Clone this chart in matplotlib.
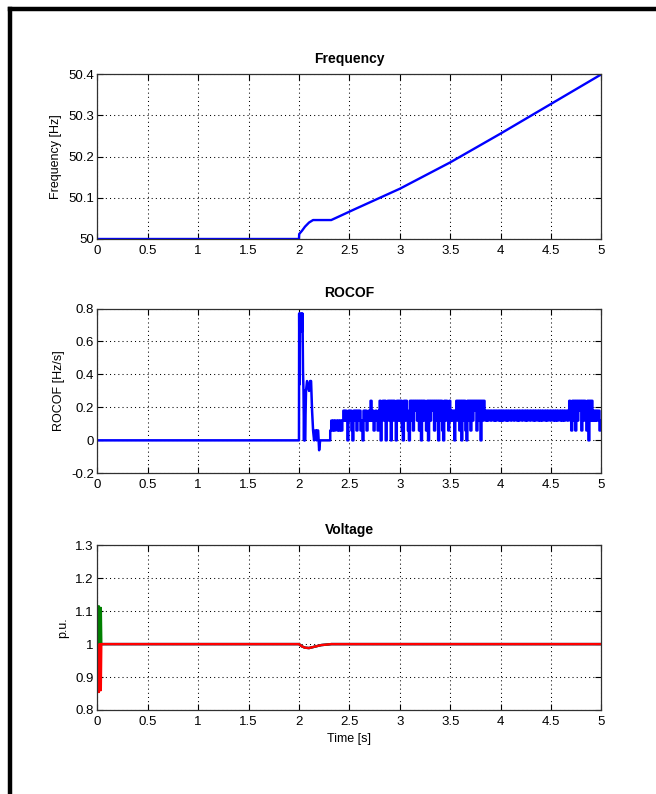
import numpy as np
import matplotlib
matplotlib.use('Agg')
from matplotlib import pyplot as plt
from matplotlib.lines import Line2D

plt.rcParams['font.family'] = ['Liberation Sans', 'DejaVu Sans']

# Shared time axis
TIME_TICKS = [0, 0.5, 1, 1.5, 2, 2.5, 3, 3.5, 4, 4.5, 5]
TIME_TICK_LABELS = ['0', '0.5', '1', '1.5', '2', '2.5', '3', '3.5', '4', '4.5', '5']

# Frequency [Hz]
FREQ_T = [0.0, 2.0, 2.002, 2.03, 2.06, 2.10, 2.14, 2.32, 2.40, 2.55, 3.0, 3.5, 4.0, 4.5, 5.0]
FREQ_HZ = [50.0, 50.0, 50.012, 50.02, 50.03, 50.04, 50.046, 50.046, 50.055, 50.072,
           50.122, 50.186, 50.256, 50.328, 50.4]
FREQ_TICKS = [50, 50.1, 50.2, 50.3, 50.4]
FREQ_TICK_LABELS = ['50', '50.1', '50.2', '50.3', '50.4']

# ROCOF [Hz/s] - transient after the event
ROCOF_T = [0.0, 2.000, 2.002, 2.006, 2.010, 2.025, 2.030, 2.035, 2.040, 2.045, 2.050,
           2.055, 2.060, 2.070, 2.080, 2.100, 2.110, 2.120, 2.130, 2.140, 2.150,
           2.160, 2.170, 2.175, 2.180, 2.190, 2.200, 2.210]
ROCOF_V = [0.0, 0.0, 0.77, 0.34, 0.77, 0.77, 0.66, 0.77, 0.42, 0.30, 0.0,
           0.30, 0.0, 0.30, 0.36, 0.30, 0.36, 0.36, 0.18, 0.06, 0.0,
           0.06, 0.06, 0.0, 0.06, 0.06, -0.06, 0.0]

# ROCOF [Hz/s] - sampled every 10 ms from 2.30 s
ROCOF_STEP_START = 2.30
ROCOF_STEP_DT = 0.01
ROCOF_STEPS = [
    0.0, 0.06, 0.12, 0.06, 0.12, 0.06, 0.12, 0.12, 0.06, 0.12,    # 2.30
    0.06, 0.12, 0.06, 0.12, 0.18, 0.12, 0.18, 0.12, 0.0, 0.18,    # 2.40
    0.12, 0.18, 0.06, 0.0, 0.18, 0.12, 0.18, 0.06, 0.18, 0.12,    # 2.50
    0.18, 0.06, 0.12, 0.0, 0.18, 0.12, 0.18, 0.06, 0.12, 0.18,    # 2.60
    0.12, 0.24, 0.12, 0.18, 0.06, 0.12, 0.18, 0.12, 0.06, 0.18,   # 2.70
    0.24, 0.0, 0.18, 0.24, 0.12, 0.24, 0.0, 0.18, 0.24, 0.12,     # 2.80
    0.24, 0.0, 0.24, 0.12, 0.24, 0.18, 0.0, 0.24, 0.12, 0.24,     # 2.90
    0.12, 0.24, 0.06, 0.0, 0.24, 0.12, 0.24, 0.18, 0.06, 0.0,     # 3.00
    0.24, 0.12, 0.24, 0.06, 0.24, 0.18, 0.24, 0.12, 0.24, 0.06,   # 3.10
    0.24, 0.0, 0.24, 0.12, 0.24, 0.18, 0.06, 0.24, 0.0, 0.24,     # 3.20
    0.12, 0.24, 0.18, 0.24, 0.06, 0.24, 0.12, 0.24, 0.0, 0.24,    # 3.30
    0.12, 0.24, 0.06, 0.0, 0.24, 0.12, 0.24, 0.18, 0.06, 0.24,    # 3.40
    0.12, 0.18, 0.12, 0.18, 0.0, 0.18, 0.24, 0.12, 0.24, 0.06,    # 3.50
    0.24, 0.0, 0.24, 0.12, 0.24, 0.06, 0.0, 0.24, 0.12, 0.24,     # 3.60
    0.06, 0.24, 0.12, 0.24, 0.18, 0.24, 0.06, 0.24, 0.12, 0.24,   # 3.70
    0.0, 0.24, 0.12, 0.24, 0.18, 0.12, 0.18, 0.12, 0.18, 0.18,    # 3.80
    0.12, 0.18, 0.18, 0.12, 0.18, 0.12, 0.18, 0.18, 0.12, 0.18,   # 3.90
    0.12, 0.18, 0.12, 0.18, 0.18, 0.12, 0.18, 0.12, 0.18, 0.18,   # 4.00
    0.12, 0.18, 0.18, 0.12, 0.18, 0.18, 0.12, 0.18, 0.12, 0.18,   # 4.10
    0.18, 0.12, 0.18, 0.18, 0.12, 0.18, 0.12, 0.18, 0.18, 0.12,   # 4.20
    0.18, 0.18, 0.12, 0.18, 0.12, 0.18, 0.18, 0.12, 0.18, 0.12,   # 4.30
    0.18, 0.12, 0.18, 0.18, 0.12, 0.18, 0.12, 0.18, 0.18, 0.12,   # 4.40
    0.18, 0.18, 0.12, 0.18, 0.12, 0.18, 0.12, 0.18, 0.18, 0.12,   # 4.50
    0.18, 0.12, 0.18, 0.12, 0.18, 0.18, 0.12, 0.18, 0.24, 0.12,   # 4.60
    0.06, 0.24, 0.12, 0.24, 0.06, 0.24, 0.12, 0.24, 0.18, 0.24,   # 4.70
    0.06, 0.24, 0.12, 0.24, 0.18, 0.06, 0.24, 0.0, 0.24, 0.12,    # 4.80
    0.24, 0.12, 0.18, 0.12, 0.18, 0.12, 0.18, 0.18, 0.06, 0.12,   # 4.90
]
ROCOF_TICKS = [-0.2, 0, 0.2, 0.4, 0.6, 0.8]
ROCOF_TICK_LABELS = ['-0.2', '0', '0.2', '0.4', '0.6', '0.8']

# Voltage [p.u.], three phases
VOLT_BLUE_T = [0.0, 2.00, 2.03, 2.06, 2.10, 2.14, 2.18, 2.22, 2.26, 2.32, 5.0]
VOLT_BLUE = [1.0, 1.0, 0.993, 0.989, 0.988, 0.991, 0.994, 0.997, 0.998, 1.0, 1.0]
VOLT_GREEN_T = [0.0, 0.015, 0.02, 0.025, 0.03, 0.035, 0.04, 2.00, 2.03, 2.06, 2.10,
                2.14, 2.18, 2.22, 2.26, 2.32, 5.0]
VOLT_GREEN = [1.0, 1.115, 1.0, 1.11, 1.0, 1.11, 1.0, 1.0, 0.993, 0.989, 0.988,
              0.991, 0.994, 0.997, 0.998, 1.0, 1.0]
VOLT_RED_T = [0.015, 0.02, 0.025, 0.03, 0.035, 0.04, 2.00, 2.03, 2.06, 2.10, 2.14,
              2.18, 2.22, 2.26, 2.32, 5.0]
VOLT_RED = [0.855, 1.0, 0.86, 1.0, 0.86, 1.0, 1.0, 0.993, 0.989, 0.988, 0.991,
            0.994, 0.997, 0.998, 1.0, 1.0]
VOLT_TICKS = [0.8, 0.9, 1.0, 1.1, 1.2, 1.3]
VOLT_TICK_LABELS = ['0.8', '0.9', '1', '1.1', '1.2', '1.3']


def style_axes(ax, yticks, yticklabels, ylim):
    ax.set_xlim(0, 5)
    ax.set_ylim(*ylim)
    ax.set_xticks(TIME_TICKS)
    ax.set_xticklabels(TIME_TICK_LABELS)
    ax.set_yticks(yticks)
    ax.set_yticklabels(yticklabels)
    ax.tick_params(direction='in', length=4, width=0.8, top=True, right=True,
                   labelsize=9.5, colors='black')
    ax.tick_params(axis='x', pad=4)
    ax.tick_params(axis='y', pad=2.5)
    ax.grid(True, color='black', linestyle=(0, (1, 3)), linewidth=0.75)
    for sp in ax.spines.values():
        sp.set_color('#303030')
        sp.set_linewidth(0.9)


fig = plt.figure(figsize=(6.56, 7.94), dpi=100)

left, width, height = 0.1483, 0.7686, 0.2075
ax1 = fig.add_axes([left, 0.699, width, height])
ax2 = fig.add_axes([left, 0.4039, width, height])
ax3 = fig.add_axes([left, 0.1058, width, height])

# Frequency
ax1.plot(FREQ_T, FREQ_HZ, color='blue', linewidth=1.7)
style_axes(ax1, FREQ_TICKS, FREQ_TICK_LABELS, (50, 50.4))
ax1.set_title('Frequency', fontsize=10, fontweight='bold', pad=8)
ax1.set_ylabel('Frequency [Hz]', fontsize=9, labelpad=4)

# ROCOF: transient followed by the 10 ms sampled part
n = len(ROCOF_STEPS)
t0 = ROCOF_STEP_START + ROCOF_STEP_DT * np.arange(n)
step_t = np.column_stack([t0, t0 + ROCOF_STEP_DT]).ravel()
step_v = np.repeat(ROCOF_STEPS, 2)
rocof_t = np.concatenate([ROCOF_T, step_t])
rocof_v = np.concatenate([ROCOF_V, step_v])
ax2.plot(rocof_t, rocof_v, color='blue', linewidth=1.8)
style_axes(ax2, ROCOF_TICKS, ROCOF_TICK_LABELS, (-0.2, 0.8))
ax2.set_title('ROCOF', fontsize=10, fontweight='bold', pad=8)
ax2.set_ylabel('ROCOF [Hz/s]', fontsize=9, labelpad=4)

# Voltage
ax3.plot(VOLT_BLUE_T, VOLT_BLUE, color='blue', linewidth=1.7)
ax3.plot(VOLT_GREEN_T, VOLT_GREEN, color='#008000', linewidth=1.7)
ax3.plot(VOLT_RED_T, VOLT_RED, color='red', linewidth=1.7)
style_axes(ax3, VOLT_TICKS, VOLT_TICK_LABELS, (0.8, 1.3))
ax3.set_title('Voltage', fontsize=10, fontweight='bold', pad=8)
ax3.set_ylabel('p.u.', fontsize=9, labelpad=4)
ax3.set_xlabel('Time [s]', fontsize=9, labelpad=4)

# Black frame round the figure (cut off at the right and bottom)
x0 = 10.0 / 656
y0 = 1 - 9.0 / 794
fig.add_artist(Line2D([x0, x0], [-0.01, y0], color='black', linewidth=3.2,
                      solid_capstyle='projecting', transform=fig.transFigure))
fig.add_artist(Line2D([x0, 1.01], [y0, y0], color='black', linewidth=3.2,
                      solid_capstyle='projecting', transform=fig.transFigure))

fig.savefig('out.png', dpi=100)
